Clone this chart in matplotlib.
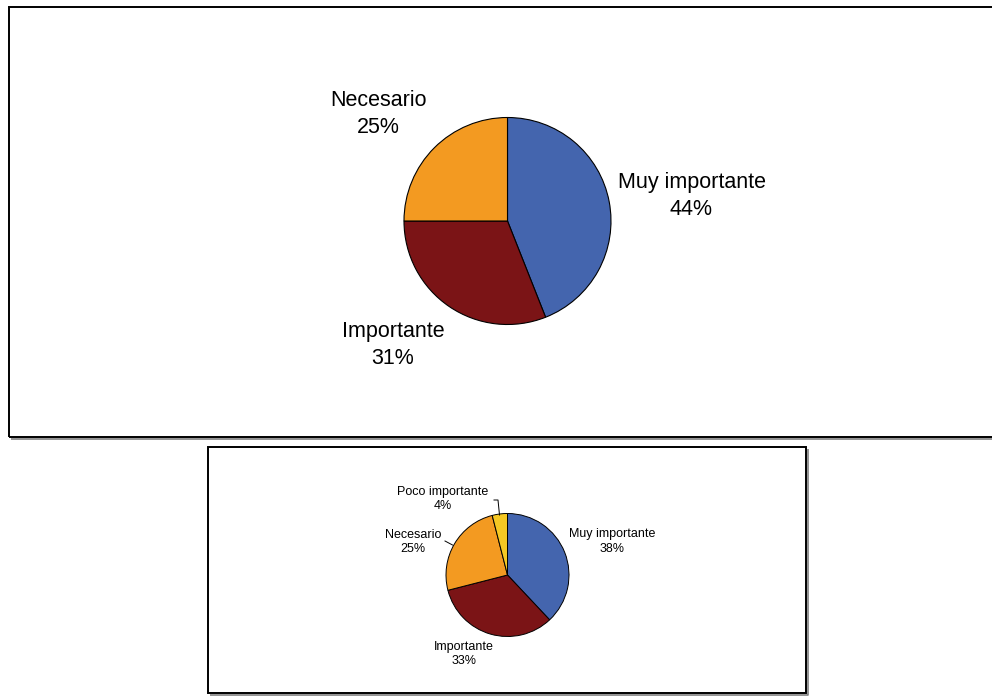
import matplotlib
matplotlib.use("Agg")
import matplotlib.pyplot as plt
from matplotlib.patches import Rectangle

plt.rcParams['font.family'] = ['Liberation Sans', 'DejaVu Sans']

# data
top_labels = ["Muy importante", "Importante", "Necesario"]
top_values = [44, 31, 25]
top_colors = ["#4465ae", "#7b1416", "#f39a21"]

bot_labels = ["Muy importante", "Importante", "Necesario", "Poco importante"]
bot_values = [38, 33, 25, 4]
bot_colors = ["#4465ae", "#7b1416", "#f39a21", "#f5c823"]

W, H = 992, 697


def Y(y):
	# pixel rows from top -> axis units from bottom
	return H - y


fig = plt.figure(figsize=(W / 100, H / 100), dpi=100)
ax = fig.add_axes([0, 0, 1, 1])


def box(x0, y0, x1, y1):
	# gray drop shadow (bottom + right only) then black frame
	ax.plot([x0 + 1.5, x1 + 1.5, x1 + 1.5], [Y(y1 + 1.5), Y(y1 + 1.5), Y(y0 + 1.5)],
			color="#808080", lw=1.2, zorder=1, solid_capstyle="butt")
	ax.add_patch(Rectangle((x0, Y(y1)), x1 - x0, y1 - y0, fill=False,
						   edgecolor="black", lw=1.4, zorder=2))


box(9, 7, 1010, 437)
box(208, 447, 806, 693)

# top pie
ax.pie(top_values, colors=top_colors, startangle=90, counterclock=False,
	   center=(507.5, Y(221)), radius=103.5, frame=True,
	   wedgeprops=dict(edgecolor="black", linewidth=0.8))
top_pos = [(691.5, 196), (393, 345), (378, 114)]
for lab, val, (x, y) in zip(top_labels, top_values, top_pos):
	ax.text(x, Y(y), "%s\n%d%%" % (lab, val), ha="center", va="center",
			fontsize=15.5, linespacing=1.4)

# bottom pie
ax.pie(bot_values, colors=bot_colors, startangle=90, counterclock=False,
	   center=(507.5, Y(575)), radius=61.5, frame=True,
	   wedgeprops=dict(edgecolor="black", linewidth=0.7))
bot_pos = [(612, 541.5), (464, 654), (413, 542), (443, 499)]
for lab, val, (x, y) in zip(bot_labels, bot_values, bot_pos):
	ax.text(x, Y(y), "%s\n%d%%" % (lab, val), ha="center", va="center",
			fontsize=9, linespacing=1.3)

# leader lines
ax.plot([494, 498, 499.5], [Y(500), Y(500), Y(515)], color="black", lw=0.7)
ax.plot([445, 452.5], [Y(541), Y(545)], color="black", lw=0.7)

ax.set_xlim(0, W)
ax.set_ylim(0, H)
ax.set_aspect("auto")
ax.axis("off")

fig.savefig("out.png", dpi=100)
